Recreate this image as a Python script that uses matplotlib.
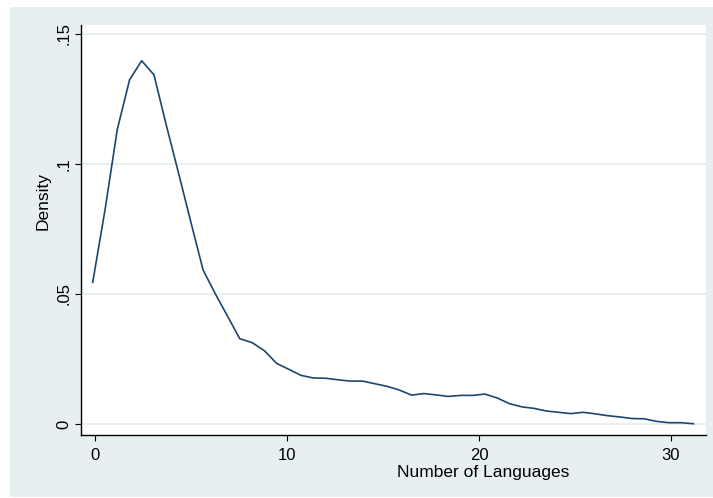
import matplotlib
matplotlib.use("Agg")
import matplotlib.pyplot as plt
from matplotlib.patches import Rectangle

# kernel density estimate
languages = [-0.12, 0.52, 1.16, 1.80, 2.43, 3.07, 3.71, 4.35, 4.99, 5.63,
             6.27, 6.90, 7.54, 8.18, 8.82, 9.46, 10.10, 10.73, 11.37, 12.01,
             12.65, 13.29, 13.93, 14.57, 15.20, 15.84, 16.48, 17.12, 17.76, 18.40,
             19.04, 19.67, 20.31, 20.95, 21.59, 22.23, 22.87, 23.50, 24.14, 24.78,
             25.42, 26.06, 26.70, 27.34, 27.97, 28.61, 29.25, 29.89, 30.53, 31.17]
density = [0.0545, 0.0823, 0.1133, 0.1324, 0.1397, 0.1343, 0.1150, 0.0965, 0.0777, 0.0592,
           0.0500, 0.0415, 0.0328, 0.0313, 0.0282, 0.0233, 0.0210, 0.0187, 0.0177, 0.0176,
           0.0170, 0.0165, 0.0165, 0.0155, 0.0145, 0.0131, 0.0111, 0.0117, 0.0112, 0.0106,
           0.0110, 0.0110, 0.0115, 0.0100, 0.0078, 0.0066, 0.0060, 0.0050, 0.0045, 0.0040,
           0.0045, 0.0039, 0.0032, 0.0027, 0.0021, 0.0020, 0.0010, 0.0005, 0.0005, 0.0001]

x_ticks = [0, 10, 20, 30]
y_ticks = [0, 0.05, 0.10, 0.15]
y_ticklabels = ["0", ".05", ".1", ".15"]

plt.rcParams['font.family'] = ['Liberation Sans', 'DejaVu Sans']

panel = '#e8eff1'
fig = plt.figure(figsize=(7.13, 4.98), dpi=100)
fig.patch.set_facecolor('white')
# light graph region behind the white plot region
bg = Rectangle((10 / 713, 1 / 498), 703 / 713, 490 / 498,
               transform=fig.transFigure, facecolor=panel,
               edgecolor='none', zorder=-5)
fig.add_artist(bg)

ax = fig.add_axes([81 / 713, 1 - 435 / 498, 625 / 713, 410 / 498])
ax.set_facecolor('white')
ax.set_zorder(1)

ax.plot(languages, density, color='#1a476f', linewidth=1.2)

ax.set_xlim(-0.73, 31.82)
ax.set_ylim(-0.00423, 0.15346)

ax.set_xticks(x_ticks)
ax.set_yticks(y_ticks)
ax.set_yticklabels(y_ticklabels, rotation=90, va='center')
ax.tick_params(axis='both', labelsize=12, length=4, width=0.8, color='black')
ax.tick_params(axis='x', pad=5)
ax.tick_params(axis='y', pad=3)

ax.grid(axis='y', color='#e6eef0', linewidth=1.3)
ax.set_axisbelow(True)

for side in ['top', 'right']:
    ax.spines[side].set_visible(False)
for side in ['left', 'bottom']:
    ax.spines[side].set_linewidth(1.0)
    ax.spines[side].set_color('black')

ax.set_xlabel('Number of Languages', fontsize=12.5)
ax.xaxis.set_label_coords(0.643, -0.073)
ax.set_ylabel('Density', fontsize=12.5)
ax.yaxis.set_label_coords(-0.048, 0.571)

fig.savefig('out.png', dpi=100)
